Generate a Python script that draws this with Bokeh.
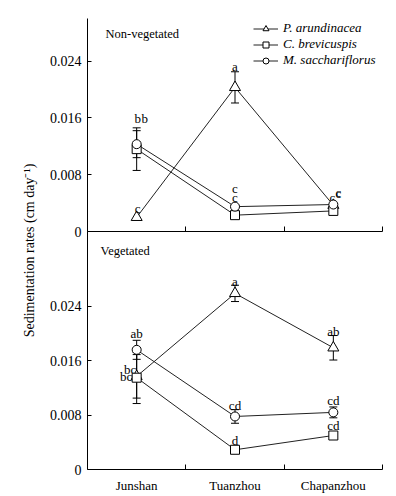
import math
from bokeh.plotting import figure
from bokeh.layouts import row, column
from bokeh.models import (ColumnDataSource, Range1d, FixedTicker, Whisker, TeeHead,
                          Legend, LegendItem, Label)
from bokeh.core.properties import value
from bokeh.embed import file_html
from bokeh.resources import INLINE

# ---------------- data ----------------
sites = ["Junshan", "Tuanzhou", "Chapanzhou"]
species = ["P. arundinacea", "C. brevicuspis", "M. sacchariflorus"]
y_ticks = [0, 0.008, 0.016, 0.024]
y_tick_labels = ["0", "0.008", "0.016", "0.024"]

# Non-vegetated panel
nonveg_pa = [0.0020, 0.0203, 0.0037]
nonveg_pa_err = [0.0, 0.0022, 0.0]
nonveg_pa_letters = ["c", "a", "c"]
nonveg_cb = [0.0116, 0.0023, 0.0029]
nonveg_cb_err = [0.0030, 0.0, 0.0]
nonveg_cb_letters = ["b", "c", "c"]
nonveg_ms = [0.0123, 0.0035, 0.0038]
nonveg_ms_err = [0.0019, 0.0, 0.0]
nonveg_ms_letters = ["b", "c", "c"]

# Vegetated panel
veg_pa = [0.0137, 0.0259, 0.0179]
veg_pa_err = [0.0032, 0.0012, 0.0018]
veg_pa_letters = ["bc", "a", "ab"]
veg_cb = [0.0135, 0.0029, 0.0050]
veg_cb_err = [0.0038, 0.0, 0.0]
veg_cb_letters = ["bc", "d", "cd"]
veg_ms = [0.0176, 0.0078, 0.0084]
veg_ms_err = [0.0014, 0.0010, 0.0008]
veg_ms_letters = ["ab", "cd", "cd"]

# letter placement (screen px offsets from the upper end of each error bar)
nonveg_offsets = {
    "pa": [(1, -8.5), (0, -5), (5, -12)],
    "cb": [(1, -9.5), (0, -27), (-1, -13)],
    "ms": [(8, -12.5), (0, -9), (5, -12)],
}
veg_offsets = {
    "pa": [(-6.5, 15), (0, -4), (0, -4.5)],
    "cb": [(-10.5, 25), (0, -9.5), (0, -10)],
    "ms": [(0, -6.5), (0, -4.5), (0, -6.5)],
}

FONT = "Liberation Serif"
FONT_VALUE = value(FONT)
xs = [0.5, 1.5, 2.5]
markers = {"pa": ("triangle", 11), "cb": ("square", 9), "ms": ("circle", 9)}


def make_panel(height, ymax, data, offsets, title, title_y, legend=False, bottom_axis=False):
    p = figure(width=352, height=height, x_range=Range1d(0, 3), y_range=Range1d(0, ymax),
               output_backend="svg", toolbar_location=None,
               min_border_left=43, min_border_right=14,
               min_border_top=0 if bottom_axis else 18,
               min_border_bottom=8)
    p.outline_line_color = None
    p.xgrid.visible = False
    p.ygrid.visible = False
    p.background_fill_alpha = 0
    p.border_fill_alpha = 0

    ya = p.yaxis[0]
    ya.ticker = FixedTicker(ticks=y_ticks, minor_ticks=[])
    ya.major_label_overrides = {t: l for t, l in zip(y_ticks, y_tick_labels)}
    ya.major_tick_in = 4
    ya.major_tick_out = 0
    ya.minor_tick_in = 0
    ya.minor_tick_out = 0
    ya.major_label_standoff = 6
    ya.major_label_text_font = FONT
    ya.major_label_text_font_size = "14px"
    ya.major_label_text_color = "black"
    ya.axis_line_color = "black"

    xa = p.xaxis[0]
    xa.axis_line_color = "black"
    xa.minor_tick_in = 5
    xa.minor_tick_out = 0
    xa.major_tick_in = 0
    xa.major_tick_out = 0
    if bottom_axis:
        xa.ticker = FixedTicker(ticks=xs, minor_ticks=[1, 2, 3])
        xa.major_label_overrides = {x: s for x, s in zip(xs, sites)}
        xa.major_label_standoff = 8
        xa.major_label_text_font = FONT
        xa.major_label_text_font_size = "13px"
        xa.major_label_text_color = "black"
    else:
        xa.ticker = FixedTicker(ticks=[], minor_ticks=[1, 2, 3])
        xa.major_label_standoff = 0

    items = []
    for key, name in zip(["pa", "cb", "ms"], species):
        vals, errs, letters = data[key]
        eb = [(x, v, e) for x, v, e in zip(xs, vals, errs) if e > 0]
        if eb:
            src = ColumnDataSource(dict(x=[a[0] for a in eb],
                                        upper=[a[1] + a[2] for a in eb],
                                        lower=[a[1] - a[2] for a in eb]))
            w = Whisker(source=src, base="x", upper="upper", lower="lower",
                        line_color="black", line_width=1,
                        upper_head=TeeHead(size=8, line_color="black", line_width=1),
                        lower_head=TeeHead(size=8, line_color="black", line_width=1),
                        level="underlay")
            p.add_layout(w)
        lr = p.line(xs, vals, line_color="#222222", line_width=1)
        m, s = markers[key]
        sr = p.scatter(xs, vals, marker=m, size=s, fill_color="white",
                       line_color="black", line_width=1)
        items.append(LegendItem(label=name, renderers=[lr, sr]))
        tsrc = ColumnDataSource(dict(
            x=xs, y=[v + e for v, e in zip(vals, errs)], text=letters,
            xo=[o[0] for o in offsets[key]], yo=[o[1] for o in offsets[key]]))
        p.text(x="x", y="y", text="text", x_offset="xo", y_offset="yo", source=tsrc,
               text_font=FONT_VALUE, text_font_size="13px", text_color="black",
               text_align="center", text_baseline="middle")

    p.add_layout(Label(x=title[1], y=title_y, x_units="screen", y_units="screen",
                       text=title[0], text_font=FONT, text_font_size="12.5px",
                       text_color="black", text_baseline="middle"))

    if legend:
        lg = Legend(items=items, location=(166, 163), padding=0, margin=0, spacing=0,
                    glyph_width=25, glyph_height=15, label_height=15, label_standoff=5,
                    border_line_color=None, background_fill_alpha=0,
                    label_text_font=FONT, label_text_font_style="italic",
                    label_text_font_size="13px", label_text_color="black")
        p.add_layout(lg)
    return p


top = make_panel(239, 0.030,
                 {"pa": (nonveg_pa, nonveg_pa_err, nonveg_pa_letters),
                  "cb": (nonveg_cb, nonveg_cb_err, nonveg_cb_letters),
                  "ms": (nonveg_ms, nonveg_ms_err, nonveg_ms_letters)},
                 nonveg_offsets, ("Non-vegetated", 18), 198, legend=True)
bottom = make_panel(265, 0.035,
                    {"pa": (veg_pa, veg_pa_err, veg_pa_letters),
                     "cb": (veg_cb, veg_cb_err, veg_cb_letters),
                     "ms": (veg_ms, veg_ms_err, veg_ms_letters)},
                    veg_offsets, ("Vegetated", 13), 219, bottom_axis=True)
bottom.min_border_bottom = 27
bottom.margin = (-8, 0, 0, 0)

lab = figure(width=44, height=496, output_backend="svg", toolbar_location=None,
             x_axis_location=None, y_axis_location=None,
             min_border=0, x_range=Range1d(0, 1), y_range=Range1d(0, 1))
lab.outline_line_color = None
lab.xgrid.visible = False
lab.ygrid.visible = False
lab.add_layout(Label(x=29, y=246, x_units="screen", y_units="screen",
                     text="Sedimentation rates (cm day\u207b\u00b9)", angle=math.pi / 2,
                     text_align="center", text_baseline="middle",
                     text_font=FONT, text_font_size="14px", text_color="black"))

layout = row(lab, column(top, bottom, spacing=0), spacing=0)
open("out.html", "w").write(file_html(layout, INLINE))
